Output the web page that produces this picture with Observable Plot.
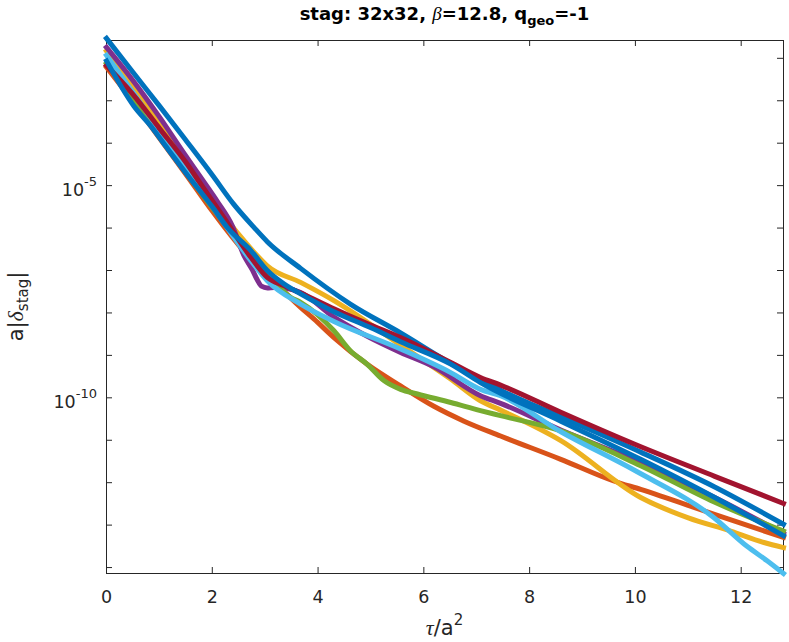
<!DOCTYPE html>
<html><head><meta charset="utf-8">
<script src="https://cdn.jsdelivr.net/npm/d3@7"></script>
<script src="https://cdn.jsdelivr.net/npm/@observablehq/plot@0.6"></script>
<style>body{margin:0;background:#fff} svg{display:block}</style>
</head><body><div id="chart"></div>
<script>
// ---- data (y stored as log10 of a|delta_stag|) ----
const xDomain = [0, 12.8];
const yDomainExp = [-14.14, -1.58];
const xTicks = [0, 2, 4, 6, 8, 10, 12];
const yTickExps = [-14, -13, -12, -11, -10, -9, -8, -7, -6, -5, -4, -3, -2];
const yLabelExps = [-5, -10];

const tBlueA = [0, 0.5, 1, 1.5, 2, 2.4, 2.8, 3.04, 3.67, 4.61, 5.56, 6.5, 7.45, 8.59, 10.1, 11.5, 12.8];
const lBlueA = [-1.53, -2.33, -3.12, -3.93, -4.75, -5.43, -6.0, -6.32, -6.95, -7.79, -8.47, -9.18, -9.82, -10.45, -11.28, -12.1, -12.98];

const tOrange = [0, 0.5, 1, 1.5, 2, 2.5, 3, 3.67, 3.92, 4.3, 4.93, 5.56, 6.19, 6.76, 7.45, 8.59, 9.59, 10.1, 11.48, 12.8];
const lOrange = [-2.21, -3.02, -3.88, -4.73, -5.6, -6.4, -7.05, -7.87, -8.14, -8.58, -9.21, -9.72, -10.2, -10.55, -10.9, -11.45, -11.96, -12.16, -12.74, -13.29];

const tYellow = [0, 0.5, 1, 1.5, 2, 2.5, 2.85, 3.04, 3.67, 4.3, 4.61, 5.56, 6.5, 7.07, 7.45, 8.59, 10.1, 11.0, 11.8, 12.43, 12.8];
const lYellow = [-1.83, -2.68, -3.57, -4.45, -5.33, -6.15, -6.65, -6.89, -7.28, -7.71, -7.95, -8.76, -9.55, -10.07, -10.29, -11.01, -12.35, -12.83, -13.14, -13.41, -13.53];

const tPurple = [0, 0.5, 1, 1.5, 1.78, 2.1, 2.38, 2.6, 2.76, 2.85, 2.93, 3.04, 3.17, 3.4, 3.67, 4.3, 4.93, 5.56, 6.19, 7.07, 7.45, 8.59, 10.1, 11.5, 12.8];
const lPurple = [-1.74, -2.52, -3.38, -4.3, -4.8, -5.38, -5.95, -6.65, -6.99, -7.22, -7.37, -7.41, -7.40, -7.42, -7.52, -8.1, -8.55, -8.93, -9.27, -9.95, -10.13, -10.76, -11.53, -12.35, -13.2];

const tGreen = [0, 0.5, 1, 1.5, 2, 2.5, 3, 3.48, 3.67, 4.3, 4.61, 4.93, 5.25, 5.56, 5.88, 6.51, 7.07, 7.45, 8.59, 10.1, 11.48, 12.8];
const lGreen = [-2.12, -2.95, -3.82, -4.68, -5.52, -6.3, -7.0, -7.63, -7.75, -8.42, -8.89, -9.21, -9.6, -9.8, -9.91, -10.11, -10.3, -10.42, -10.78, -11.6, -12.45, -13.14];

const tLightBlue = [0, 0.5, 1, 1.5, 2, 2.41, 2.73, 3.04, 3.67, 4.3, 5.56, 6.5, 7.07, 7.45, 8.59, 10.0, 11.48, 12.11, 12.49, 12.8];
const lLightBlue = [-1.93, -2.8, -3.7, -4.6, -5.48, -6.22, -6.77, -7.24, -7.79, -8.2, -8.85, -9.4, -9.8, -9.95, -10.8, -11.72, -12.82, -13.5, -13.84, -14.14];

const tRed = [0, 0.5, 1, 1.5, 1.78, 2.2, 2.73, 3.04, 3.36, 3.67, 4.3, 4.93, 5.56, 6.5, 7.07, 7.45, 8.59, 10.0, 11.5, 12.8];
const lRed = [-2.17, -2.85, -3.65, -4.45, -4.96, -5.72, -6.69, -7.16, -7.36, -7.53, -7.9, -8.25, -8.58, -9.16, -9.52, -9.7, -10.34, -11.1, -11.85, -12.49];

const tBlueB = [0, 0.52, 0.84, 1.15, 1.5, 2, 2.28, 2.73, 3.04, 3.36, 3.67, 4.3, 5.0, 5.56, 6.5, 7.07, 8.59, 10.1, 11.5, 12.8];
const lBlueB = [-2.06, -3.13, -3.6, -4.12, -4.7, -5.5, -5.98, -6.53, -7.0, -7.32, -7.55, -7.97, -8.35, -8.68, -9.2, -9.64, -10.55, -11.45, -12.35, -13.25];

const seriesNames = ["blueA", "orange", "yellow", "purple", "green", "lightblue", "red", "blueB"];
const seriesColors = ["#0072BD", "#D95319", "#EDB120", "#7E2F8E", "#77AC30", "#4DBEEE", "#A2142F", "#0072BD"];
const seriesT = [tBlueA, tOrange, tYellow, tPurple, tGreen, tLightBlue, tRed, tBlueB];
const seriesL = [lBlueA, lOrange, lYellow, lPurple, lGreen, lLightBlue, lRed, lBlueB];

// ---- layout ----
const W = 789, H = 642, mL = 106, mR = 6, mT = 40, mB = 69;
const plotW = W - mL - mR, plotH = H - mT - mB;
const axisColor = "#262626";

const tables = seriesNames.map((name, i) =>
  seriesT[i].map((t, j) => ({t, v: 10 ** seriesL[i][j], s: name})));

const plot = Plot.plot({
  width: W, height: H,
  marginLeft: mL, marginRight: mR, marginTop: mT, marginBottom: mB,
  style: {fontFamily: "DejaVu Sans", fontSize: "17.5px", color: axisColor, background: "#fff"},
  x: {domain: xDomain, label: null},
  y: {type: "log", domain: yDomainExp.map(e => 10 ** e), axis: null, label: null},
  marks: [
    Plot.frame({stroke: axisColor, strokeWidth: 1}),
    Plot.tickX(xTicks, {x: d => d, stroke: axisColor, insetTop: plotH - 6}),
    Plot.tickX(xTicks, {x: d => d, stroke: axisColor, insetBottom: plotH - 6}),
    Plot.tickY(yTickExps.map(e => 10 ** e), {y: d => d, stroke: axisColor, insetRight: plotW - 6}),
    Plot.tickY(yTickExps.map(e => 10 ** e), {y: d => d, stroke: axisColor, insetLeft: plotW - 6}),
    Plot.axisX(xTicks, {anchor: "bottom", tickSize: 0, tickPadding: 17.5, label: null, fontSize: 17.5, fill: axisColor}),
    ...tables.map((tb, i) => Plot.line(tb, {
      x: "t", y: "v", stroke: seriesColors[i], strokeWidth: 5, curve: "monotone-x",
      strokeLinejoin: "round", strokeLinecap: "square"
    }))
  ]
});
document.getElementById("chart").appendChild(plot);

const svg = d3.select(plot);
const ys = plot.scale("y");

// y tick labels with superscript exponents
yLabelExps.forEach(e => {
  const y = ys.apply(10 ** e);
  const t = svg.append("text")
    .attr("x", mL - 9).attr("y", y + 11)
    .attr("text-anchor", "end").attr("fill", axisColor)
    .style("font-family", "DejaVu Sans").style("font-size", "17.5px");
  t.append("tspan").text("10");
  t.append("tspan").attr("dy", -10).style("font-size", "13px").text(String(e));
});

// title
const title = svg.append("text")
  .attr("x", mL + plotW / 2).attr("y", 20)
  .attr("text-anchor", "middle").attr("fill", "#000")
  .style("font-family", "DejaVu Sans").style("font-weight", "bold").style("font-size", "18px");
title.append("tspan").text("stag: 32x32, ");
title.append("tspan").style("font-family", "Liberation Serif").style("font-style", "italic").style("font-weight", "normal").style("font-size", "19px").text("β");
title.append("tspan").text("=12.8, q");
title.append("tspan").attr("dy", 5).style("font-size", "13px").text("geo");
title.append("tspan").attr("dy", -5).text("=-1");

// x label
const xl = svg.append("text")
  .attr("x", mL + plotW / 2).attr("y", 635)
  .attr("text-anchor", "middle").attr("fill", axisColor)
  .style("font-family", "DejaVu Sans").style("font-size", "21px");
xl.append("tspan").style("font-family", "Liberation Serif").style("font-style", "italic").style("font-size", "22px").text("τ");
xl.append("tspan").text("/a");
xl.append("tspan").attr("dy", -10).style("font-size", "15px").text("2");

// y label
const yl = svg.append("text")
  .attr("transform", `translate(23, ${mT + plotH / 2}) rotate(-90)`)
  .attr("text-anchor", "middle").attr("fill", axisColor)
  .style("font-family", "DejaVu Sans").style("font-size", "21px");
yl.append("tspan").text("a|");
yl.append("tspan").style("font-family", "Liberation Serif").style("font-style", "italic").style("font-size", "22px").text("δ");
yl.append("tspan").attr("dy", 5).style("font-size", "15px").text("stag");
yl.append("tspan").attr("dy", -5).text("|");
</script></body></html>
